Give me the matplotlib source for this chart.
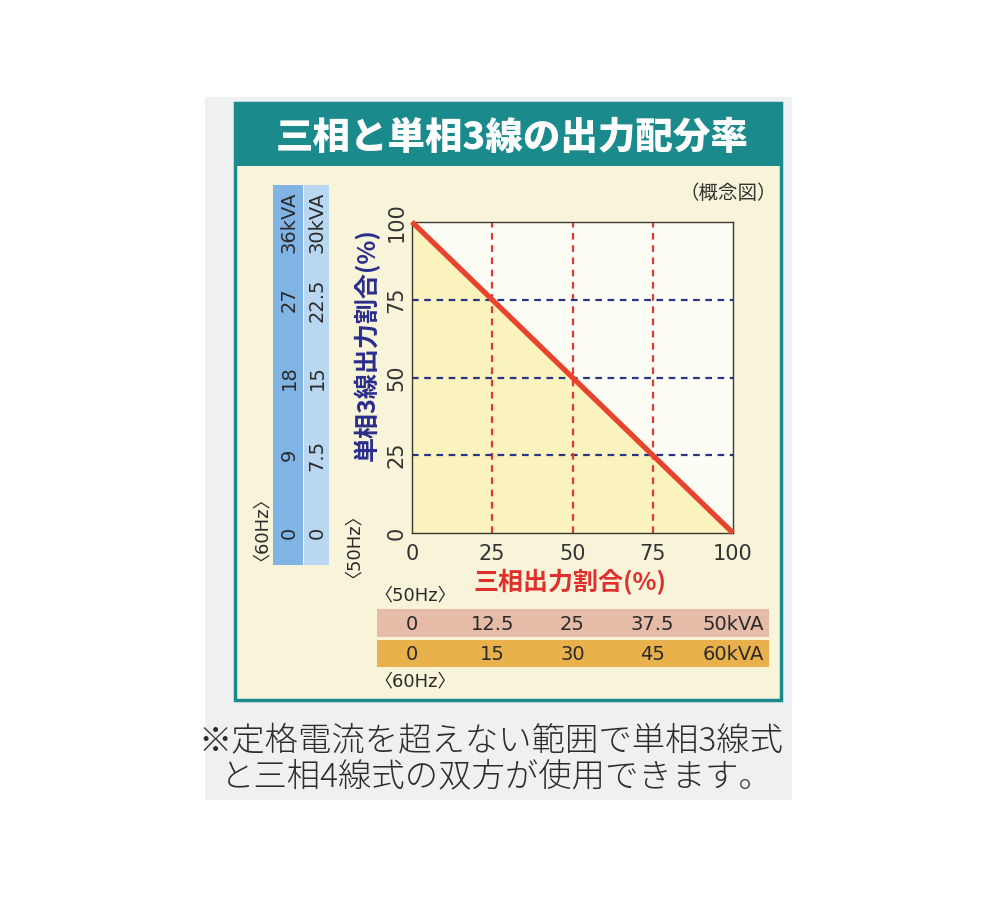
import matplotlib
matplotlib.use("Agg")
import matplotlib.pyplot as plt
from matplotlib.patches import Rectangle
from matplotlib.transforms import blended_transform_factory
import numpy as np

plt.rcParams['font.family'] = ['Noto Sans CJK JP', 'DejaVu Sans']
NUMFONT = ['DejaVu Sans', 'Noto Sans CJK JP']

# ---- data ----
title = "三相と単相3線の出力配分率"
subtitle = "（概念図）"
three_phase_pct = [0, 100]          # x: 三相出力割合
single_phase_pct = [100, 0]         # y: 単相3線出力割合
ticks = [0, 25, 50, 75, 100]
tick_labels = ["0", "25", "50", "75", "100"]
grid_vals = [25, 50, 75]
xlabel = "三相出力割合(%)"
ylabel = "単相3線出力割合(%)"
kva_single_60 = ["0", "9", "18", "27", "36kVA"]
kva_single_50 = ["0", "7.5", "15", "22.5", "30kVA"]
kva_three_50 = ["0", "12.5", "25", "37.5", "50kVA"]
kva_three_60 = ["0", "15", "30", "45", "60kVA"]
hz60 = "〈60Hz〉"
hz50 = "〈50Hz〉"
note_lines = ["※定格電流を超えない範囲で単相3線式", "と三相4線式の双方が使用できます。"]

# ---- figure ----
W, H = 1000, 900
fig = plt.figure(figsize=(W / 100, H / 100), dpi=100)
fig.patch.set_facecolor("white")


def fx(x):
    return x / W


def fy(y):
    return 1 - y / H


def frect(x0, y0, x1, y1, **kw):
    r = Rectangle((fx(x0), fy(y1)), fx(x1) - fx(x0), fy(y0) - fy(y1),
                  transform=fig.transFigure, **kw)
    fig.patches.append(r)
    return r


TEAL = "#1b8a8c"
TXT = "#2a2a2a"
# scanned page gray panel
frect(205, 97, 792, 800, facecolor="#eef0f1", edgecolor="none", zorder=0)
# cream inner area with teal border
frect(235, 103, 781, 700, facecolor="#f7f4da", edgecolor=TEAL, lw=2.5, zorder=1)
# title band
frect(235, 103, 781, 166, facecolor=TEAL, edgecolor="none", zorder=2)
fig.text(fx(512), fy(138), title, color="white", fontsize=27, fontweight="heavy",
         ha="center", va="center", zorder=3)
fig.text(fx(728), fy(193), subtitle, color="#333333", fontsize=14,
         ha="center", va="center", zorder=3)

# ---- main axes ----
ax = fig.add_axes([fx(412), fy(533), fx(733) - fx(412), fy(222) - fy(533)])
ax.set_zorder(5)
ax.set_facecolor("#fdfdf6")
ax.set_xlim(0, 100)
ax.set_ylim(0, 100)
ax.fill_between(three_phase_pct, single_phase_pct, 0, color="#fbf3bd", zorder=1, lw=0)
for v in grid_vals:
    ax.axvline(v, color="#e03a35", lw=1.6, dashes=(3, 2.5), zorder=2)
    ax.axhline(v, color="#2b3585", lw=1.6, dashes=(3, 2.5), zorder=2)
ax.plot(three_phase_pct, single_phase_pct, color="#e8432c", lw=3.8,
        solid_capstyle="butt", zorder=3, clip_on=False)
for s in ax.spines.values():
    s.set_color("#3a3a30")
    s.set_linewidth(1.0)
ax.set_xticks(ticks)
ax.set_xticklabels(tick_labels, family=NUMFONT)
ax.set_yticks(ticks)
ax.set_yticklabels(tick_labels, rotation=90, va="center", family=NUMFONT)
ax.tick_params(length=0, labelsize=15, colors="#333333")
ax.tick_params(axis="x", pad=8)
ax.tick_params(axis="y", pad=4)

fig.text(fx(570), fy(582), xlabel, color="#e0302c", fontsize=18, fontweight="bold",
         ha="center", va="center", zorder=6)
fig.text(fx(367), fy(345), ylabel, color="#2a2d8c", fontsize=18, fontweight="bold",
         rotation=90, ha="center", va="center", zorder=6)

# ---- vertical kVA bands (single-phase) ----
frect(273, 185, 303, 565, facecolor="#80b4e4", edgecolor="none", zorder=2)
frect(304, 185, 329, 565, facecolor="#b9d7f1", edgecolor="none", zorder=2)
tv = blended_transform_factory(fig.transFigure, ax.transData)
for v, lab in zip(ticks, kva_single_60):
    fig.text(fx(289), v, lab, transform=tv, rotation=90, ha="center", va="center",
             fontsize=14, color=TXT, family=NUMFONT, zorder=3)
for v, lab in zip(ticks, kva_single_50):
    fig.text(fx(317), v, lab, transform=tv, rotation=90, ha="center", va="center",
             fontsize=14, color=TXT, family=NUMFONT, zorder=3)
fig.text(fx(253), fy(520), hz60, rotation=90, ha="center", va="center",
         fontsize=13, color=TXT, family=NUMFONT, zorder=3)
fig.text(fx(345), fy(537), hz50, rotation=90, ha="center", va="center",
         fontsize=13, color=TXT, family=NUMFONT, zorder=3)

# ---- horizontal kVA bands (three-phase) ----
frect(377, 609, 769, 637, facecolor="#e6bba7", edgecolor="none", zorder=2)
frect(377, 640, 769, 667, facecolor="#e9b14c", edgecolor="none", zorder=2)
th = blended_transform_factory(ax.transData, fig.transFigure)
for v, lab in zip(ticks, kva_three_50):
    fig.text(v, fy(624), lab, transform=th, ha="center", va="center",
             fontsize=14, color=TXT, family=NUMFONT, zorder=3)
for v, lab in zip(ticks, kva_three_60):
    fig.text(v, fy(654), lab, transform=th, ha="center", va="center",
             fontsize=14, color=TXT, family=NUMFONT, zorder=3)
fig.text(fx(415), fy(595), hz50, ha="center", va="center",
         fontsize=13, color=TXT, family=NUMFONT, zorder=3)
fig.text(fx(415), fy(681), hz60, ha="center", va="center",
         fontsize=13, color=TXT, family=NUMFONT, zorder=3)

# ---- footnote ----
fig.text(fx(491), fy(742), note_lines[0], ha="center", va="center",
         fontsize=24, fontweight="light", color="#2c2c2c", zorder=3)
fig.text(fx(497), fy(777), note_lines[1], ha="center", va="center",
         fontsize=24, fontweight="light", color="#2c2c2c", zorder=3)

fig.savefig("out.png", dpi=100, facecolor=fig.get_facecolor())
